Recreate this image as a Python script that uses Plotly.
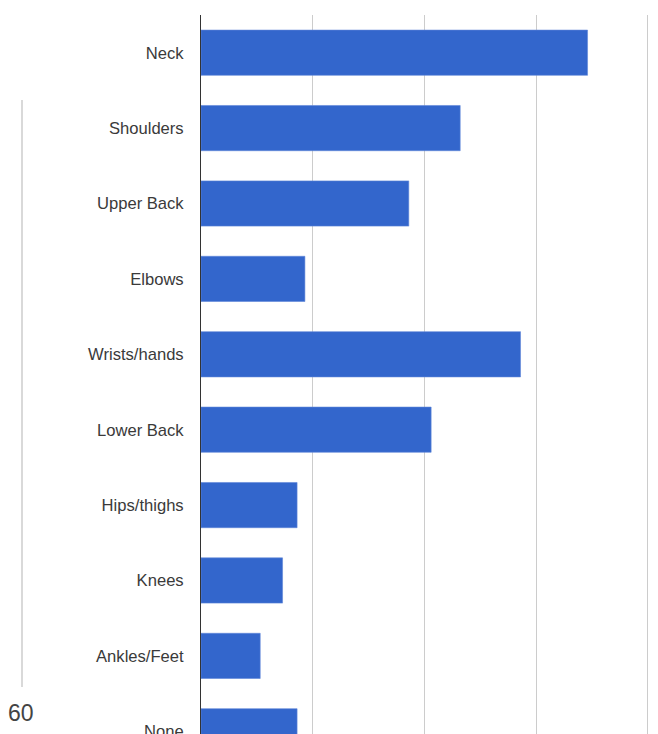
import plotly.graph_objects as go

categories = ["Neck", "Shoulders", "Upper Back", "Elbows", "Wrists/hands",
              "Lower Back", "Hips/thighs", "Knees", "Ankles/Feet", "None"]
values = [34.6, 23.2, 18.6, 9.3, 28.6, 20.6, 8.6, 7.3, 5.3, 8.6]

W, H = 658, 734
L, R, T, B = 201, 9, 15, 0
pw = W - L - R
ph = H - T - B

def px(x):
    return (x - L) / pw

def py(y):
    return (H - B - y) / ph

fig = go.Figure(go.Bar(
    x=values, y=categories, orientation="h",
    marker=dict(color="#3366cc", line=dict(color="#5f86d8", width=0.6)),
    hoverinfo="x+y",
))

fig.update_layout(
    width=W, height=H,
    margin=dict(l=L, r=R, t=T, b=B, pad=0, autoexpand=False),
    paper_bgcolor="white", plot_bgcolor="white",
    bargap=0.4,
    showlegend=False,
    font=dict(family="Liberation Sans, Arial, sans-serif", size=16, color="#222"),
    xaxis=dict(range=[0, 40.1], dtick=10, tick0=0, showticklabels=False,
               showgrid=True, gridcolor="#cccccc", gridwidth=1,
               zeroline=False, showline=False, fixedrange=True,
               automargin=False),
    yaxis=dict(categoryorder="array", categoryarray=categories,
               range=[9.036, -0.5], showgrid=False, zeroline=False,
               showline=True, linecolor="#333333", linewidth=1,
               ticks="", ticklabelstandoff=13, automargin=False,
               tickfont=dict(size=16.6, color="#3a3a3a"), fixedrange=True),
    shapes=[dict(type="line", xref="paper", yref="paper",
                 x0=px(22), x1=px(22), y0=py(100), y1=py(687),
                 line=dict(color="#cccccc", width=1.5))],
    annotations=[dict(text="60", xref="paper", yref="paper",
                      x=px(20.5), y=py(712.5), showarrow=False,
                      xanchor="center", yanchor="middle",
                      font=dict(size=23, color="#444"))],
)

fig.write_html("out.html")
